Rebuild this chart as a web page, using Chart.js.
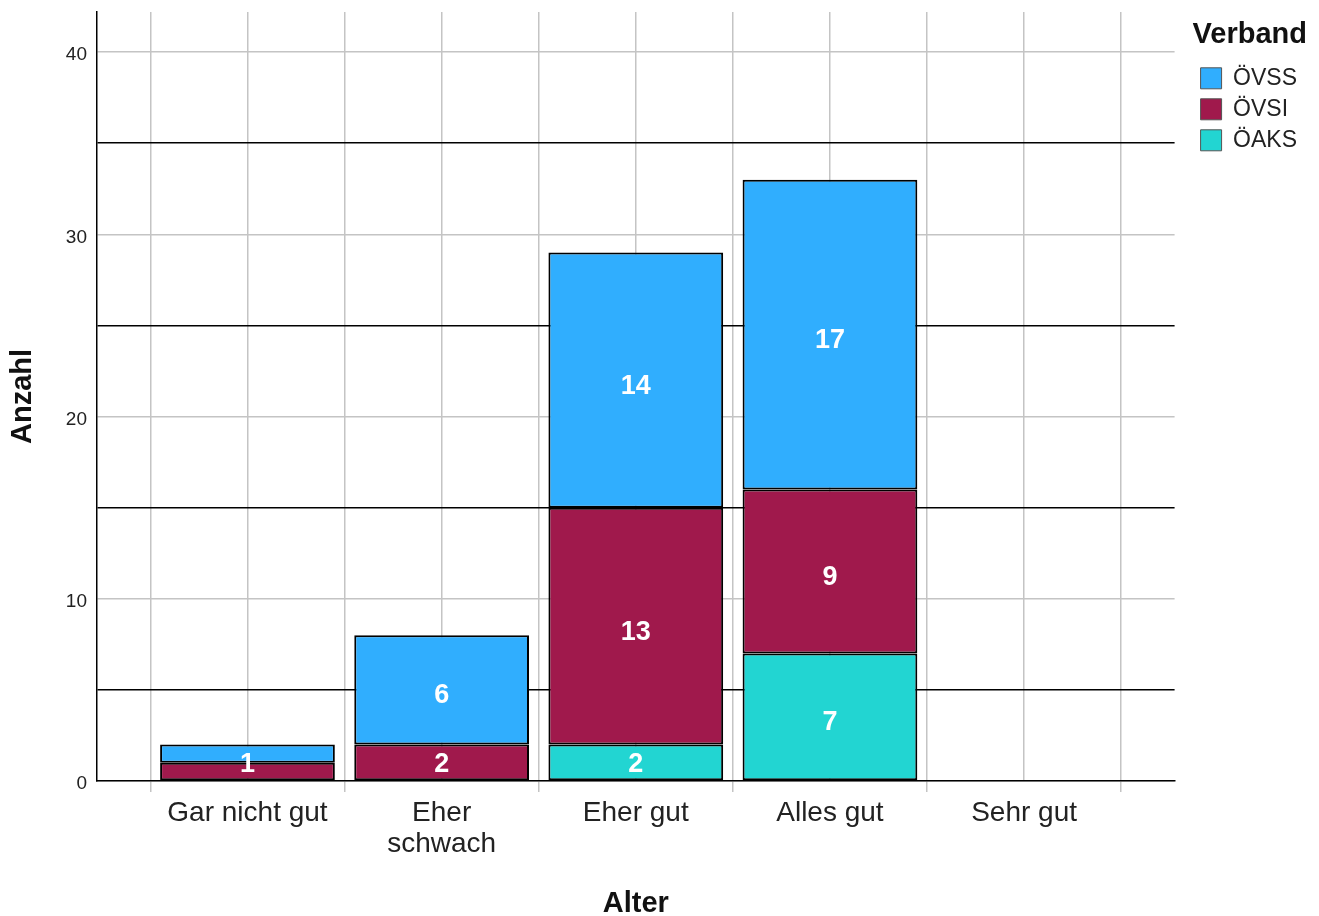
<!DOCTYPE html>
<html>
<head>
<meta charset="utf-8">
<script src="https://cdn.jsdelivr.net/npm/chart.js@4.4.1/dist/chart.umd.min.js"></script>
<style>
  html, body { margin: 0; padding: 0; background: #fff; }
  #wrap { width: 1319px; height: 916px; }
</style>
</head>
<body>
<div id="wrap"><canvas id="chart"></canvas></div>
<script>
// x axis categories (Alter)
const categories = ['Gar nicht gut', ['Eher', 'schwach'], 'Eher gut', 'Alles gut', 'Sehr gut'];
// counts per Verband, stacked bottom to top
const oeaks = [0, 0, 2, 7, 0];
const oevsi = [1, 2, 13, 9, 0];
const oevss = [1, 6, 14, 17, 0];
// y axis range and tick step
const yMax = 42.2;
const yStep = 5;

// extra room left/right of the outer category edges (in category units)
const xPad = 0.775;

Chart.defaults.font.family = '"Liberation Sans", Arial, sans-serif';

// turn a value list into {x, y} points on the linear x axis
function toPoints(values) {
    return values.map((v, i) => ({ x: i, y: v }));
}

// grid positions: category centres and the edges between them
function halfSteps() {
    const out = [];
    for (let i = -1; i < categories.length; i++) {
        out.push({ value: i + 0.5 });
        if (i + 1 < categories.length) out.push({ value: i + 1 });
    }
    return out;
}

// white numbers inside the stacked segments
const segmentLabels = {
    id: 'segmentLabels',
    afterDatasetsDraw(chart) {
        const ctx = chart.ctx;
        ctx.save();
        ctx.font = 'bold 27px "Liberation Sans", Arial, sans-serif';
        ctx.fillStyle = '#fff';
        ctx.textAlign = 'center';
        ctx.textBaseline = 'middle';
        const placed = [];
        chart.data.datasets.forEach((ds, di) => {
            chart.getDatasetMeta(di).data.forEach((bar, i) => {
                const v = ds.data[i].y;
                if (!v) return;
                const h = bar.base - bar.y;
                // short segment: number sits on its top edge (SPSS style)
                const y = h < 26 ? bar.y : (bar.y + bar.base) / 2;
                if (placed.some(p => p.i === i && Math.abs(p.y - y) < 24)) return;
                placed.push({ i, y });
                ctx.fillText(String(v), bar.x, y + (h > 60 ? 6 : 2));
            });
        });
        ctx.restore();
    }
};

const gridGray = '#c4c4c4';

function tickValue(ctx) {
    return ctx.tick ? ctx.tick.value : NaN;
}

new Chart(document.getElementById('chart'), {
    type: 'bar',
    data: {
        datasets: [
            { label: 'ÖAKS', data: toPoints(oeaks), backgroundColor: '#22d5d2' },
            { label: 'ÖVSI', data: toPoints(oevsi), backgroundColor: '#a0194c' },
            { label: 'ÖVSS', data: toPoints(oevss), backgroundColor: '#30aefe' }
        ]
    },
    options: {
        responsive: true,
        maintainAspectRatio: false,
        animation: false,
        layout: { padding: { top: 12, right: 12, bottom: 0, left: 0 } },
        datasets: {
            bar: {
                borderColor: '#000',
                borderWidth: 2,
                borderSkipped: false,
                barPercentage: 0.9,
                // grid ticks sit at half-category steps, so the sample width is half a category
                categoryPercentage: 2
            }
        },
        plugins: {
            tooltip: { enabled: false },
            legend: {
                position: 'right',
                align: 'start',
                reverse: true,
                title: {
                    display: true,
                    text: 'Verband',
                    position: 'start',
                    color: '#111',
                    font: { size: 29, weight: 'bold' },
                    padding: { top: 8, bottom: 4 }
                },
                labels: {
                    boxWidth: 21,
                    boxHeight: 21,
                    padding: 8,
                    color: '#222',
                    font: { size: 23 },
                    generateLabels: chart => Chart.defaults.plugins.legend.labels.generateLabels(chart)
                        .map(item => Object.assign(item, { lineWidth: 1, strokeStyle: '#555' }))
                }
            }
        },
        scales: {
            x: {
                type: 'linear',
                stacked: true,
                offset: false,
                min: -xPad,
                max: categories.length - 1 + xPad,
                afterBuildTicks: axis => { axis.ticks = halfSteps(); },
                afterFit: axis => { axis.height = 135; },
                grid: {
                    offset: false,
                    color: gridGray,
                    lineWidth: 1.5,
                    tickLength: 11,
                    tickColor: ctx => Number.isInteger(tickValue(ctx)) ? 'rgba(0,0,0,0)' : gridGray
                },
                border: { color: '#000', width: 1.5 },
                ticks: {
                    autoSkip: false,
                    maxRotation: 0,
                    minRotation: 0,
                    padding: 6,
                    color: '#222',
                    font: { size: 28, lineHeight: 1.1 },
                    callback: v => Number.isInteger(v) ? categories[v] : ''
                },
                title: {
                    display: true,
                    text: 'Alter',
                    color: '#111',
                    font: { size: 29, weight: 'bold' },
                    padding: { top: 0, bottom: -5 }
                }
            },
            y: {
                stacked: true,
                min: 0,
                max: yMax,
                afterFit: axis => {
                    axis.width = 97;
                    axis.paddingTop = 0;
                    axis.paddingBottom = 0;
                },
                grid: {
                    drawTicks: false,
                    lineWidth: 1.5,
                    color: ctx => tickValue(ctx) % 10 === 0 ? gridGray : '#000'
                },
                border: { color: '#000', width: 1.5 },
                ticks: {
                    stepSize: yStep,
                    includeBounds: false,
                    padding: 10,
                    labelOffset: 3,
                    color: '#222',
                    font: { size: 19 },
                    callback: v => v % 10 === 0 ? v : ''
                },
                title: {
                    display: true,
                    text: 'Anzahl',
                    color: '#111',
                    font: { size: 29, weight: 'bold' },
                    padding: { top: 6, bottom: 0 }
                }
            },
            // empty gap between plot and legend
            spacer: {
                type: 'linear',
                position: 'right',
                grid: { display: false, drawTicks: false },
                ticks: { display: false },
                border: { display: false },
                afterFit: axis => { axis.width = 18; }
            }
        }
    },
    plugins: [segmentLabels]
});
</script>
</body>
</html>
